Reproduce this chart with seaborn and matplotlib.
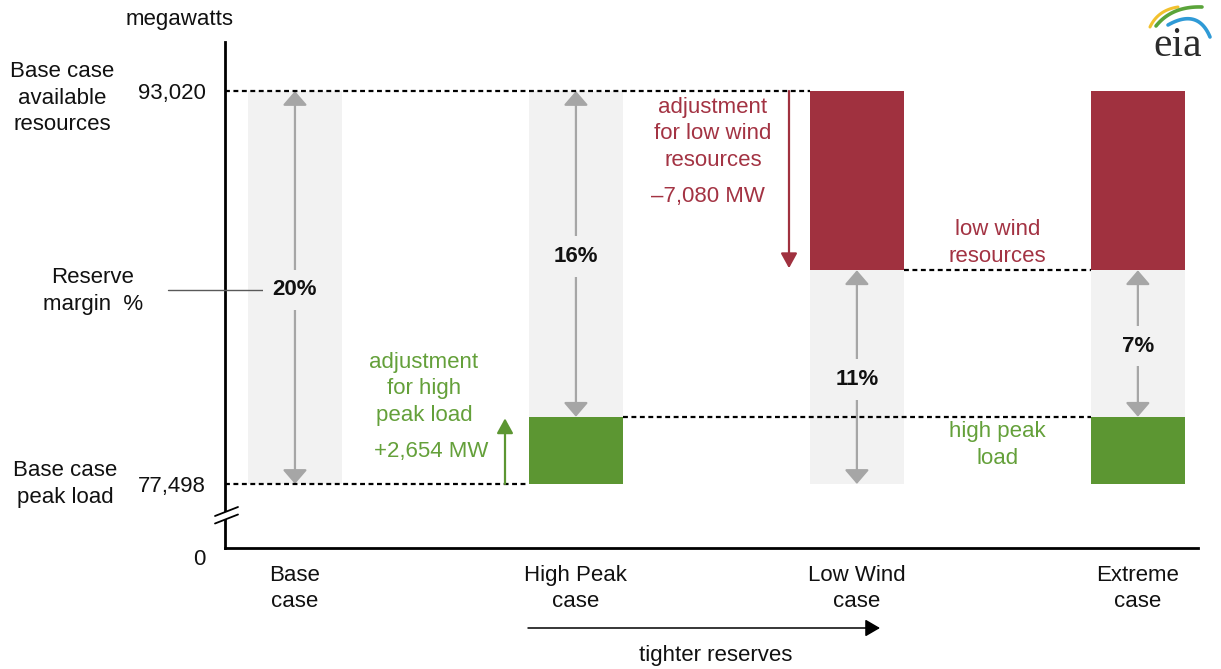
import numpy as np
import pandas as pd
import matplotlib
matplotlib.use("Agg")
import matplotlib.pyplot as plt
import seaborn as sns
from matplotlib.lines import Line2D
from matplotlib.patches import Polygon
from matplotlib.transforms import IdentityTransform, ScaledTranslation

# ---- data (megawatts) ----
cases = ["Base\ncase", "High Peak\ncase", "Low Wind\ncase", "Extreme\ncase"]
base_peak_load = 77498
base_available = 93020
load_adjustment = 2654      # high peak load scenario
wind_adjustment = -7080     # low wind resources scenario
peak_load = [base_peak_load, base_peak_load + load_adjustment,
             base_peak_load, base_peak_load + load_adjustment]
available = [base_available, base_available,
             base_available + wind_adjustment, base_available + wind_adjustment]

# ---- style ----
sns.set_theme(style="white")
plt.rcParams["font.family"] = ["Liberation Sans", "DejaVu Sans"]
FS = 16
LS = 1.33
GREY_BAR = "#f2f2f2"
GREY_ARROW = "#a6a6a6"
GREEN = "#5c9632"
GREEN_TXT = "#64a03a"
RED = "#a0313f"
RED_TXT = "#a33343"
INK = "#111111"

W, H = 1221, 669
fig = plt.figure(figsize=(W / 100, H / 100), dpi=100)
fig.patch.set_facecolor("white")
ax = fig.add_axes([225 / W, 121 / H, 973 / W, 506 / H])

seg = pd.DataFrame({"case": cases, "load": peak_load, "avail": available})
seg["margin_h"] = seg["avail"] - seg["load"]
seg["load_h"] = seg["load"] - base_peak_load
seg["wind_h"] = base_available - seg["avail"]

bw = 0.335
common = dict(x="case", width=bw, saturation=1, errorbar=None,
              edgecolor="none", linewidth=0, ax=ax)
sns.barplot(data=seg, y="margin_h", bottom=seg["load"].to_numpy(),
            color=GREY_BAR, zorder=1, **common)
sns.barplot(data=seg, y="load_h", bottom=base_peak_load,
            color=GREEN, zorder=2, **common)
sns.barplot(data=seg, y="wind_h", bottom=seg["avail"].to_numpy(),
            color=RED, zorder=2, **common)

y_floor = 74970
ax.set_ylim(y_floor, 94955)
ax.set_xlim(-0.249, 3.214)
ax.set_xlabel("")
ax.set_ylabel("")

# axes / ticks
sns.despine(ax=ax)
for side in ("left", "bottom"):
    ax.spines[side].set_color("black")
    ax.spines[side].set_linewidth(2)
ax.set_yticks([y_floor, base_peak_load, base_available],
              labels=["0", f"{base_peak_load:,}", f"{base_available:,}"])
ax.tick_params(axis="y", length=0, pad=14, labelsize=FS, labelcolor=INK)
ax.set_xticks(range(len(cases)), labels=cases)
ax.tick_params(axis="x", length=0, pad=12, labelsize=FS, labelcolor=INK)
for lab in ax.get_xticklabels():
    lab.set_linespacing(LS)
zero_lab = ax.get_yticklabels()[0]
zero_lab.set_transform(zero_lab.get_transform()
                       + ScaledTranslation(0, -9 / 100, fig.dpi_scale_trans))
ax.grid(False)


def px(xp, yp):
    """pixel position (from top-left) -> data coordinates"""
    return ax.transData.inverted().transform((xp, H - yp))


# dashed reference lines
dash = dict(color="black", lw=1.6, linestyle=(0, (2.2, 1.6)), zorder=4, clip_on=False)
x0 = ax.get_xlim()[0]
ax.plot([x0, 2 - bw / 2], [base_available] * 2, **dash)
ax.plot([x0, 1 - bw / 2], [base_peak_load] * 2, **dash)
ax.plot([1 + bw / 2, 3 - bw / 2], [peak_load[1]] * 2, **dash)
ax.plot([2 + bw / 2, 3 - bw / 2], [available[2]] * 2, **dash)

# reserve margin arrows with percentage labels
for i, (lo, hi) in enumerate(zip(peak_load, available)):
    ax.annotate("", xy=(i, lo), xytext=(i, hi),
                arrowprops=dict(arrowstyle="<|-|>,head_length=0.58,head_width=0.5",
                                color=GREY_ARROW, lw=1.6, shrinkA=0, shrinkB=0,
                                mutation_scale=15),
                zorder=3)
    pct = round(100 * (hi - lo) / lo)
    ax.text(i, (lo + hi) / 2, f"{pct}%", ha="center", va="center_baseline",
            fontsize=FS, fontweight="bold", color=INK, zorder=5,
            bbox=dict(facecolor=GREY_BAR, edgecolor="none", pad=7))

# adjustment arrows
gx = px(505, 0)[0]
ax.annotate("", xy=(gx, peak_load[1] - 60), xytext=(gx, base_peak_load),
            arrowprops=dict(arrowstyle="-|>,head_length=0.6,head_width=0.33",
                            color=GREEN, lw=1.6, shrinkA=0, shrinkB=0,
                            mutation_scale=15), zorder=4)
rx = px(789, 0)[0]
ax.annotate("", xy=(rx, available[2] + 80), xytext=(rx, base_available),
            arrowprops=dict(arrowstyle="-|>,head_length=0.6,head_width=0.33",
                            color=RED, lw=1.6, shrinkA=0, shrinkB=0,
                            mutation_scale=15), zorder=4)

# annotation texts
txt = dict(ha="center", va="center", fontsize=FS, linespacing=LS, zorder=6)
ax.text(*px(424, 389), "adjustment\nfor high\npeak load", color=GREEN_TXT, **txt)
ax.text(*px(431, 452), f"+{load_adjustment:,} MW", color=GREEN_TXT, **txt)
ax.text(*px(713, 134), "adjustment\nfor low wind\nresources", color=RED_TXT, **txt)
ax.text(*px(708, 197), f"\u2013{abs(wind_adjustment):,} MW", color=RED_TXT, **txt)
ax.text(2.5, px(0, 243)[1], "low wind\nresources", color=RED_TXT, **txt)
ax.text(2.5, px(0, 445)[1], "high peak\nload", color=GREEN_TXT, **txt)

# left-side captions
ftxt = dict(ha="center", va="center", fontsize=FS, linespacing=LS, color=INK)
fig.text(180 / W, 1 - 20 / H, "megawatts", **ftxt)
fig.text(62 / W, 1 - 98 / H, "Base case\navailable\nresources", **ftxt)
fig.text(93 / W, 1 - 291 / H, "Reserve\nmargin  %", **ftxt)
fig.text(65 / W, 1 - 484 / H, "Base case\npeak load", **ftxt)
(ax_l, ay_l), (ax_r, _) = px(168, 290), px(265, 290)
ax.plot([ax_l, ax_r], [ay_l, ay_l], color="#595959", lw=1, clip_on=False, zorder=4)

# axis break marks
ident = IdentityTransform()
fig.add_artist(Polygon([(215, H - 516), (238, H - 507), (238, H - 514.5), (215, H - 523.5)],
                       closed=True, facecolor="white", edgecolor="none",
                       transform=ident, zorder=10))
for dy in (0, 7.5):
    fig.add_artist(Line2D([215, 238], [H - 516 - dy, H - 507 - dy],
                          color="black", lw=1.3, transform=ident, zorder=11))

# "tighter reserves" arrow
ax.annotate("", xy=(880, H - 628), xytext=(528, H - 628),
            xycoords="figure pixels", textcoords="figure pixels",
            arrowprops=dict(arrowstyle="-|>,head_length=0.6,head_width=0.35",
                            color="black", lw=1.1, shrinkA=0, shrinkB=0,
                            mutation_scale=15), annotation_clip=False)
fig.text(716 / W, 1 - 655 / H, "tighter reserves", **ftxt)

# eia logo
fig.text(1178 / W, 1 - 46 / H, "eia", ha="center", va="center", fontsize=30,
         family=["Liberation Serif", "DejaVu Serif"], color="#2b2b2b")
t = np.linspace(0, 1, 40)


def swoosh(p0, p1, p2, color, lw):
    xs = (1 - t) ** 2 * p0[0] + 2 * (1 - t) * t * p1[0] + t ** 2 * p2[0]
    ys = (1 - t) ** 2 * p0[1] + 2 * (1 - t) * t * p1[1] + t ** 2 * p2[1]
    fig.add_artist(Line2D(xs, H - ys, color=color, lw=lw,
                          solid_capstyle="round", transform=ident, zorder=12))


swoosh((1150, 27), (1158, 10), (1178, 7), "#f2c12e", 2.2)
swoosh((1156, 26), (1172, 6), (1202, 7), "#5aa43a", 2.6)
swoosh((1168, 25), (1198, 8), (1210, 37), "#2f9ad6", 2.6)

fig.savefig("out.png", dpi=100, facecolor="white")
